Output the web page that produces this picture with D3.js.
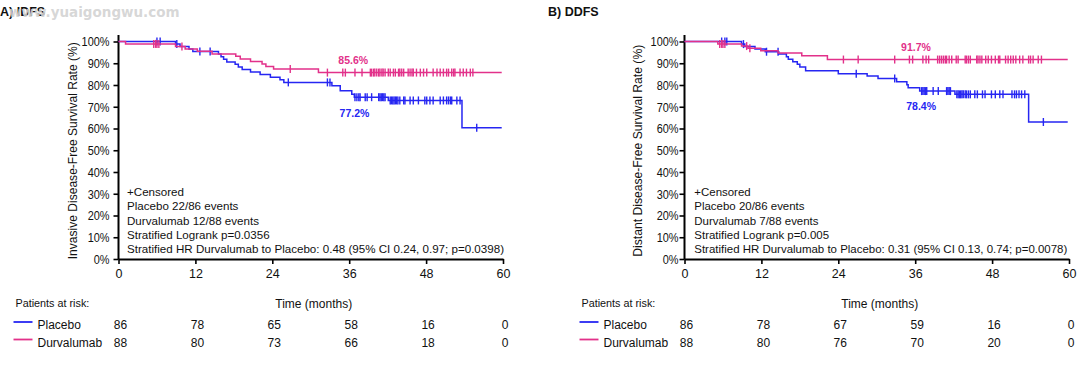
<!DOCTYPE html>
<html><head><meta charset="utf-8">
<script src="https://cdn.jsdelivr.net/npm/d3@7"></script>
<style>body{margin:0;background:#fff}svg{display:block}</style>
</head><body>
<svg id="chart" width="1080" height="379"></svg>
<script>
// ---------- data ----------
const monthTicks = [0, 12, 24, 36, 48, 60];
const pctTicks = [0, 10, 20, 30, 40, 50, 60, 70, 80, 90, 100];
const groups = ["Placebo", "Durvalumab"];

// A) IDFS
const idfsPlaceboT = [8.9, 9.6, 11.0, 11.6, 15.6, 16.0, 16.4, 16.9, 18.2, 18.7, 19.3, 20.6, 22.1, 23.7, 25.2, 25.8, 33.3, 34.6, 36.4, 36.8, 42.1, 53.6];
const idfsPlaceboS = [98.8, 97.7, 96.5, 95.4, 94.2, 93.0, 91.8, 90.6, 89.5, 88.3, 87.1, 86.0, 84.8, 83.6, 82.4, 81.2, 79.7, 77.4, 75.8, 74.4, 72.9, 60.3];
const idfsPlaceboCens = [6.0, 6.5, 9.1, 12.7, 14.3, 26.5, 32.6, 33.0, 36.9, 37.2, 37.5, 37.7, 38.5, 38.8, 39.5, 40.6, 40.8, 41.0, 41.2, 41.4, 41.6, 42.4, 42.6, 42.8, 43.0, 43.2, 43.4, 43.6, 43.9, 44.5, 44.7, 45.5, 46.0, 46.8, 47.8, 48.1, 48.6, 49.1, 50.2, 50.7, 51.2, 51.5, 51.8, 52.0, 52.8, 53.3, 55.9];
const idfsDurvaT = [1.1, 8.9, 10.4, 12.3, 14.6, 18.3, 19.0, 20.6, 22.4, 23.0, 24.2, 31.2];
const idfsDurvaS = [98.9, 97.7, 96.6, 95.5, 94.3, 93.2, 92.0, 90.8, 89.6, 88.5, 87.4, 85.7];
const idfsDurvaCens = [5.5, 5.8, 6.0, 6.3, 9.9, 26.8, 32.6, 35.0, 35.4, 36.9, 38.0, 39.3, 39.5, 39.8, 40.0, 40.3, 40.6, 40.8, 41.1, 41.3, 41.6, 42.1, 42.4, 42.9, 43.2, 43.7, 43.9, 44.2, 44.5, 45.2, 45.5, 45.8, 46.0, 46.5, 47.1, 47.6, 48.1, 49.1, 49.7, 50.2, 50.7, 51.2, 51.5, 52.0, 52.3, 52.5, 53.3, 53.8, 54.3, 54.9, 55.3];
const idfsRiskPlacebo = [86, 78, 65, 58, 16, 0];
const idfsRiskDurva = [88, 80, 73, 66, 18, 0];
const idfsNotes = ["+Censored", "Placebo  22/86 events", "Durvalumab  12/88 events", "Stratified Logrank p=0.0356", "Stratified HR Durvalumab to Placebo: 0.48 (95% CI 0.24, 0.97; p=0.0398)"];

// B) DDFS
const ddfsPlaceboT = [8.9, 9.4, 11.0, 12.6, 14.7, 15.9, 16.2, 16.9, 17.6, 18.0, 18.9, 24.0, 28.5, 30.2, 33.1, 34.7, 34.9, 36.7, 42.2, 53.7];
const ddfsPlaceboS = [98.8, 97.7, 96.5, 95.3, 94.2, 93.0, 91.8, 90.7, 89.5, 88.3, 86.6, 85.2, 84.1, 83.0, 81.5, 80.1, 78.7, 77.2, 75.7, 63.0];
const ddfsPlaceboCens = [5.8, 6.3, 6.6, 9.2, 12.8, 14.6, 26.8, 32.8, 37.0, 37.2, 37.4, 37.6, 37.8, 38.8, 39.6, 40.9, 41.1, 41.3, 41.5, 42.5, 42.7, 42.9, 43.1, 43.3, 43.5, 43.8, 44.0, 44.3, 44.6, 45.3, 45.7, 46.5, 46.9, 47.9, 48.5, 49.2, 49.7, 51.1, 51.5, 51.8, 52.2, 52.6, 53.1, 56.0];
const ddfsDurvaT = [5.2, 8.9, 9.9, 11.9, 14.6, 18.3, 22.3];
const ddfsDurvaS = [98.9, 97.9, 96.9, 95.8, 94.7, 93.4, 91.7];
const ddfsDurvaCens = [5.5, 5.8, 6.0, 6.3, 9.7, 10.2, 24.8, 27.1, 32.8, 35.1, 35.6, 37.2, 37.7, 38.1, 39.5, 39.8, 40.1, 40.4, 40.7, 40.9, 41.3, 41.7, 42.4, 42.7, 43.8, 44.0, 44.3, 44.6, 45.6, 45.8, 46.1, 46.4, 47.0, 47.4, 47.9, 48.5, 49.0, 49.2, 50.1, 50.5, 50.9, 51.3, 51.7, 52.3, 52.8, 53.7, 54.0, 54.4, 55.2, 55.7];
const ddfsRiskPlacebo = [86, 78, 67, 59, 16, 0];
const ddfsRiskDurva = [88, 80, 76, 70, 20, 0];
const ddfsNotes = ["+Censored", "Placebo  20/86 events", "Durvalumab  7/88 events", "Stratified Logrank p=0.005", "Stratified HR Durvalumab to Placebo: 0.31 (95% CI 0.13, 0.74; p=0.0078)"];

// ---------- style ----------
const BLUE = "#2626f2";
const PINK = "#e2318a";
const SANS = "'Liberation Sans',Arial,sans-serif";

const svg = d3.select("#chart");

// squeeze text horizontally by a factor (emulates the condensed face of the original)
function condense(sel, factor) {
  sel.each(function () {
    const w = this.getComputedTextLength();
    d3.select(this).attr("textLength", w * factor).attr("lengthAdjust", "spacingAndGlyphs");
  });
}
function fitTo(sel, width) {
  sel.each(function () {
    d3.select(this).attr("textLength", width).attr("lengthAdjust", "spacingAndGlyphs");
  });
}

function drawPanel(p) {
  const g = svg.append("g");
  const x = d3.scaleLinear().domain([0, 60]).range([p.x0, p.x0 + 384.5]);
  const y = d3.scaleLinear().domain([0, 100]).range([259, 41.5]);

  // title
  g.append("text").attr("x", p.titleX).attr("y", 16)
    .attr("font-family", SANS).attr("font-weight", "bold").attr("font-size", 12.5)
    .attr("fill", "#111").text(p.title);

  // axes
  const yAxis = g.append("g").attr("transform", `translate(${p.x0},0)`)
    .call(d3.axisLeft(y).tickValues(pctTicks).tickFormat(d => d + "%").tickSize(5).tickSizeOuter(0));
  yAxis.select(".domain").attr("d", `M0,${y(0)}V35`);
  const xAxis = g.append("g").attr("transform", `translate(0,${y(0)})`)
    .call(d3.axisBottom(x).tickValues(monthTicks).tickSize(5).tickSizeOuter(0));
  [yAxis, xAxis].forEach(a => {
    a.select(".domain").attr("stroke", "#000").attr("stroke-width", 2);
    a.selectAll(".tick line").attr("stroke", "#000").attr("stroke-width", 1.6);
    a.selectAll(".tick text").attr("font-family", SANS).attr("font-size", 12.5).attr("fill", "#111");
  });
  yAxis.selectAll(".tick text").attr("x", p.tickDx).attr("dy", "0.34em").attr("font-size", 13);
  condense(yAxis.selectAll(".tick text"), 0.84);
  xAxis.selectAll(".tick text").attr("y", 15).attr("dy", "0.32em");

  // y label
  const yl = g.append("text")
    .attr("transform", `translate(${p.x0 - p.ylabDx},${(y(0) + y(100)) / 2 + 0.5}) rotate(-90)`)
    .attr("text-anchor", "middle").attr("dy", "0.35em").attr("font-family", SANS).attr("font-size", 12.8)
    .attr("fill", "#111").text(p.ylab);
  fitTo(yl, p.ylabLen);

  // curves
  const line = d3.line().x(d => x(d[0])).y(d => y(d[1])).curve(d3.curveStepAfter);
  p.series.forEach(s => {
    const pts = [[0, 100]].concat(s.t.map((t, i) => [t, s.s[i]]));
    pts.push([59.8, s.s[s.s.length - 1]]);
    g.append("path").attr("d", line(pts)).attr("fill", "none")
      .attr("stroke", s.color).attr("stroke-width", 1.5);
    const surv = t => { let v = 100; s.t.forEach((tt, i) => { if (tt <= t) v = s.s[i]; }); return v; };
    g.append("g").selectAll("line").data(s.c).join("line")
      .attr("x1", d => x(d)).attr("x2", d => x(d))
      .attr("y1", d => y(surv(d)) - 4).attr("y2", d => y(surv(d)) + 4)
      .attr("stroke", s.color).attr("stroke-width", 1.4);
  });

  // percent labels
  p.pctLabels.forEach(l => {
    g.append("text").attr("x", x(l.t)).attr("y", l.y)
      .attr("font-family", SANS).attr("font-weight", "bold").attr("font-size", 10.5)
      .attr("fill", l.color).text(l.text);
  });

  // notes
  const notes = g.append("g").selectAll("text").data(p.notes).join("text")
    .attr("x", p.x0 + p.noteDx).attr("y", (d, i) => 196 + i * 14.3)
    .attr("font-family", SANS).attr("font-size", 11.8).attr("fill", "#111")
    .text(d => d);
  const last = notes.nodes()[p.notes.length - 1].getComputedTextLength();
  condense(notes, p.noteWidth / last);

  // risk table
  g.append("text").attr("x", p.x0 - 103).attr("y", 307)
    .attr("font-family", SANS).attr("font-size", 10.8).attr("fill", "#111").text("Patients at risk:");
  g.append("text").attr("x", (x(0) + x(60)) / 2 + 3).attr("y", 308).attr("text-anchor", "middle")
    .attr("font-family", SANS).attr("font-size", 12).attr("fill", "#111").text("Time (months)");
  p.risk.forEach((r, i) => {
    const yy = 329 + i * 17.5;
    g.append("line").attr("x1", p.x0 - 105).attr("x2", p.x0 - 86)
      .attr("y1", yy - 7).attr("y2", yy - 7).attr("stroke", r.color).attr("stroke-width", 1.8);
    g.append("text").attr("x", p.x0 - 81).attr("y", yy)
      .attr("font-family", SANS).attr("font-size", 12).attr("fill", "#111").text(r.name);
    g.append("g").selectAll("text").data(r.n).join("text")
      .attr("x", (d, j) => x(monthTicks[j]) + 2).attr("y", yy).attr("text-anchor", "middle")
      .attr("font-family", SANS).attr("font-size", 12).attr("fill", "#111").text(d => d);
  });
}

drawPanel({
  x0: 118.5, titleX: 0, title: "A) IDFS", tickDx: -9, ylabDx: 46,
  ylab: "Invasive Disease-Free Survival Rate (%)", ylabLen: 217,
  series: [
    { t: idfsPlaceboT, s: idfsPlaceboS, c: idfsPlaceboCens, color: BLUE },
    { t: idfsDurvaT, s: idfsDurvaS, c: idfsDurvaCens, color: PINK }
  ],
  pctLabels: [
    { t: 34.3, y: 64, text: "85.6%", color: PINK },
    { t: 34.5, y: 117, text: "77.2%", color: BLUE }
  ],
  notes: idfsNotes, noteDx: 8.5, noteWidth: 377,
  risk: [
    { name: groups[0], n: idfsRiskPlacebo, color: BLUE },
    { name: groups[1], n: idfsRiskDurva, color: PINK }
  ]
});

drawPanel({
  x0: 684.5, titleX: 548, title: "B) DDFS", tickDx: -6, ylabDx: 47,
  ylab: "Distant Disease-Free Survival Rate (%)", ylabLen: 212,
  series: [
    { t: ddfsPlaceboT, s: ddfsPlaceboS, c: ddfsPlaceboCens, color: BLUE },
    { t: ddfsDurvaT, s: ddfsDurvaS, c: ddfsDurvaCens, color: PINK }
  ],
  pctLabels: [
    { t: 33.8, y: 51, text: "91.7%", color: PINK },
    { t: 34.6, y: 110, text: "78.4%", color: BLUE }
  ],
  notes: ddfsNotes, noteDx: 9.8, noteWidth: 373,
  risk: [
    { name: groups[0], n: ddfsRiskPlacebo, color: BLUE },
    { name: groups[1], n: ddfsRiskDurva, color: PINK }
  ]
});

// watermark (overlaps the first title, as in the original)
svg.append("text").attr("x", 9).attr("y", 17)
  .attr("font-family", "'DejaVu Sans',sans-serif").attr("font-weight", "bold").attr("font-size", 13.5)
  .attr("fill", "#d2d2d2").attr("fill-opacity", 0.9).text("www.yuaigongwu.com");
</script>
</body></html>
